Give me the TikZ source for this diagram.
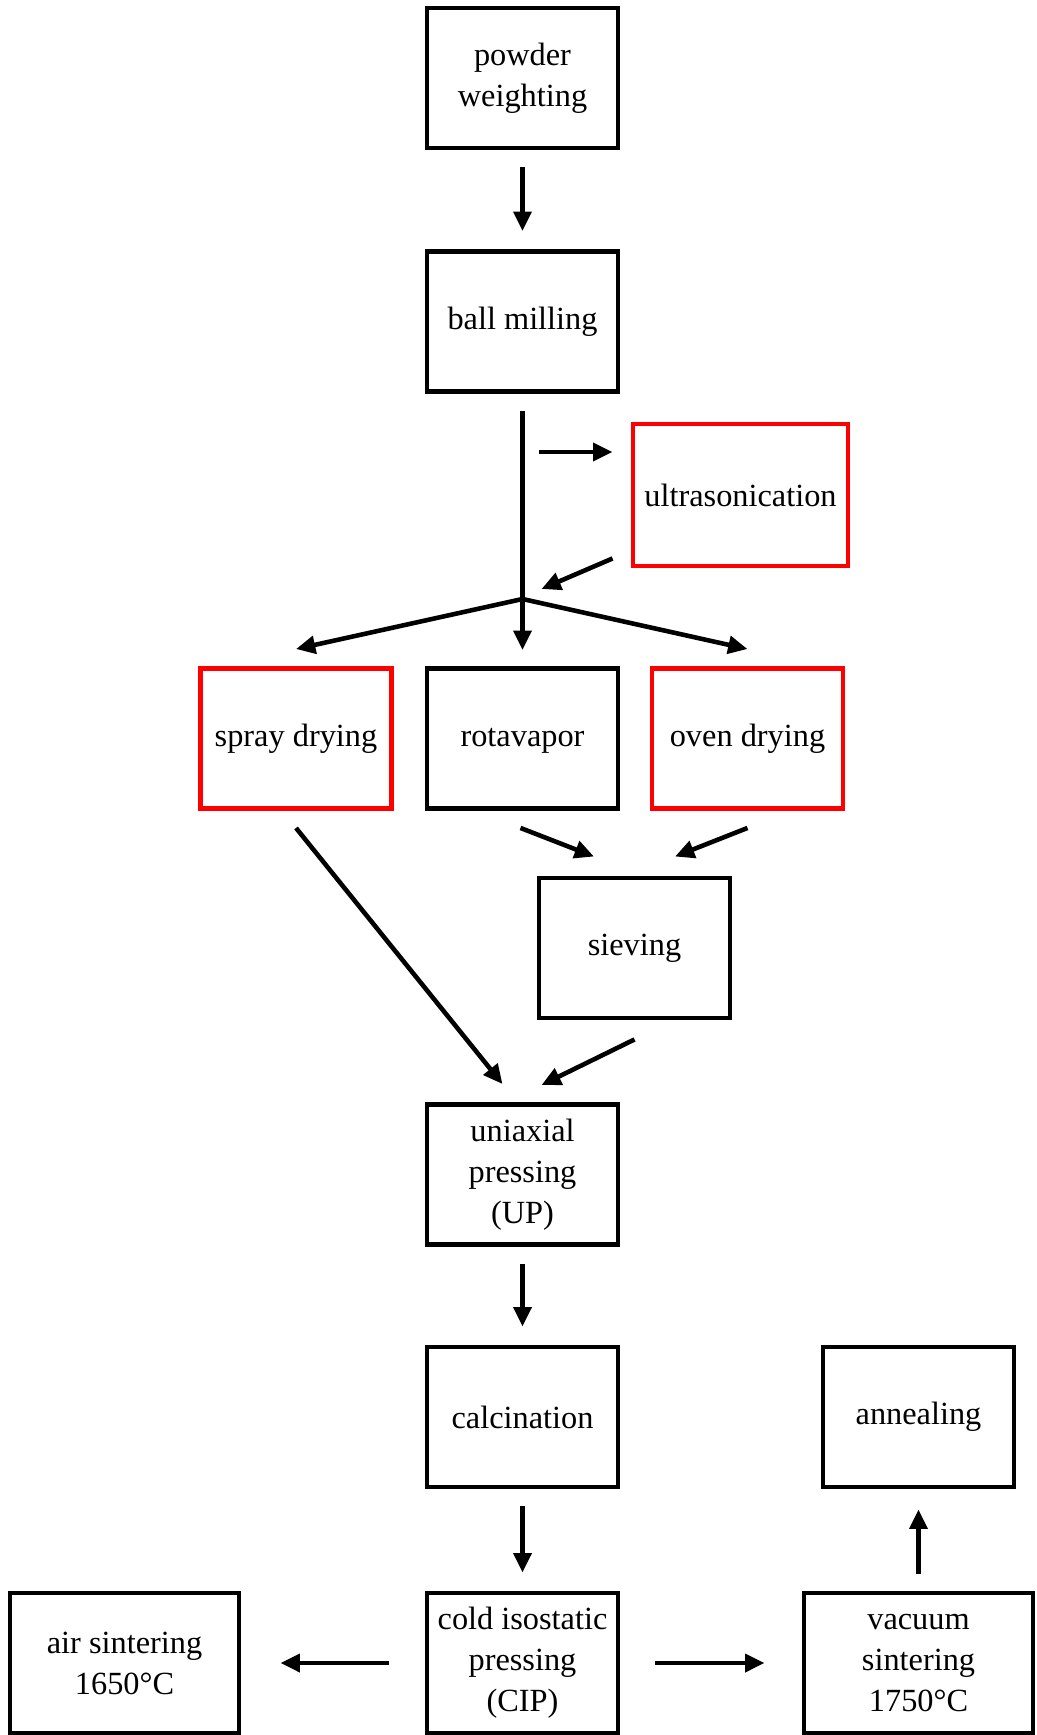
\documentclass[tikz,border=0pt]{standalone}
\usepackage{fontspec}
\setmainfont{Liberation Serif}
\usepackage{tikz}
\usetikzlibrary{positioning,calc,arrows.meta}

\tikzset{
    stage/.style={draw, line width=1.4pt, minimum width=1.91cm, minimum height=1.40cm,
        align=center, inner sep=0pt, font=\fontsize{9.2}{11.7}\selectfont},
    optional/.style={stage, draw=red},
    widestage/.style={minimum width=2.29cm},
    flow/.style={line width=1.3pt, -{Triangle[length=5.5pt,width=5pt]}},
    gap/.style={shorten <=0.17cm, shorten >=0.18cm}
}

\begin{document}
\begin{tikzpicture}
    \useasboundingbox (0,0) rectangle (10.37,-17.35);

    % preparation
    \node [stage] (weigh) at (5.225,-0.78) {powder\\weighting};
    \node [stage] (mill) at (5.225,-3.215) {ball milling};
    \node [optional, minimum width=2.15cm, minimum height=1.42cm] (sonic) at (7.405,-4.95) {ultrasonication};
    \coordinate (split) at (5.225,-5.99);

    % drying
    \node [optional] (spray) at (2.96,-7.385) {spray drying};
    \node [stage] (rota) at (5.225,-7.385) {rotavapor\strut};
    \node [optional] (oven) at (7.475,-7.385) {oven drying};
    \node [stage] (sieve) at (6.345,-9.48) {sieving};

    % shaping
    \node [stage] (uniax) at (5.225,-11.745) {uniaxial\\pressing\\(UP)};
    \node [stage] (calc) at (5.225,-14.17) {calcination};
    \node [stage] (cip) at (5.225,-16.63) {cold isostatic\\pressing\\(CIP)};

    % sintering
    \node [stage, widestage] (air) at (1.245,-16.63) {air sintering\\1650°C};
    \node [stage, widestage] (vac) at (9.185,-16.63) {vacuum\\sintering\\1750°C};
    \node [stage] (anneal) at (9.185,-14.17) {annealing};

    % arrows
    \draw [flow, gap] (weigh) -- (mill);
    \draw [line width=1.3pt, shorten <=0.17cm] (mill) -- (split);
    \draw [flow] ($(sonic.west)+(-0.92,0.43)$) -- ($(sonic.west)+(-0.18,0.43)$);
    \draw [flow] ($(sonic.south west)+(-0.18,0.10)$) -- ($(split)+(0.19,0.10)$);
    \draw [flow] (split) -- ($(spray.north)+(0,0.17)$);
    \draw [flow, shorten >=0.16cm] (split) -- (rota);
    \draw [flow] (split) -- ($(oven.north)+(0,0.17)$);
    \draw [flow] ($(rota.south)+(-0.02,-0.17)$) -- ($(sieve.north)+(-0.405,0.19)$);
    \draw [flow] ($(oven.south)+(0,-0.17)$) -- ($(sieve.north)+(0.405,0.19)$);
    \draw [flow] ($(spray.south)+(0,-0.17)$) -- ($(uniax.north)+(-0.2,0.18)$);
    \draw [flow] ($(sieve.south)+(0,-0.19)$) -- ($(uniax.north)+(0.19,0.17)$);
    \draw [flow, gap] (uniax) -- (calc);
    \draw [flow, gap] (calc) -- (cip);
    \draw [flow, shorten <=0.36cm, shorten >=0.39cm] (cip) -- (air);
    \draw [flow, shorten <=0.35cm, shorten >=0.37cm] (cip) -- (vac);
    \draw [flow, shorten <=0.17cm, shorten >=0.20cm] (vac) -- (anneal);
\end{tikzpicture}
\end{document}
